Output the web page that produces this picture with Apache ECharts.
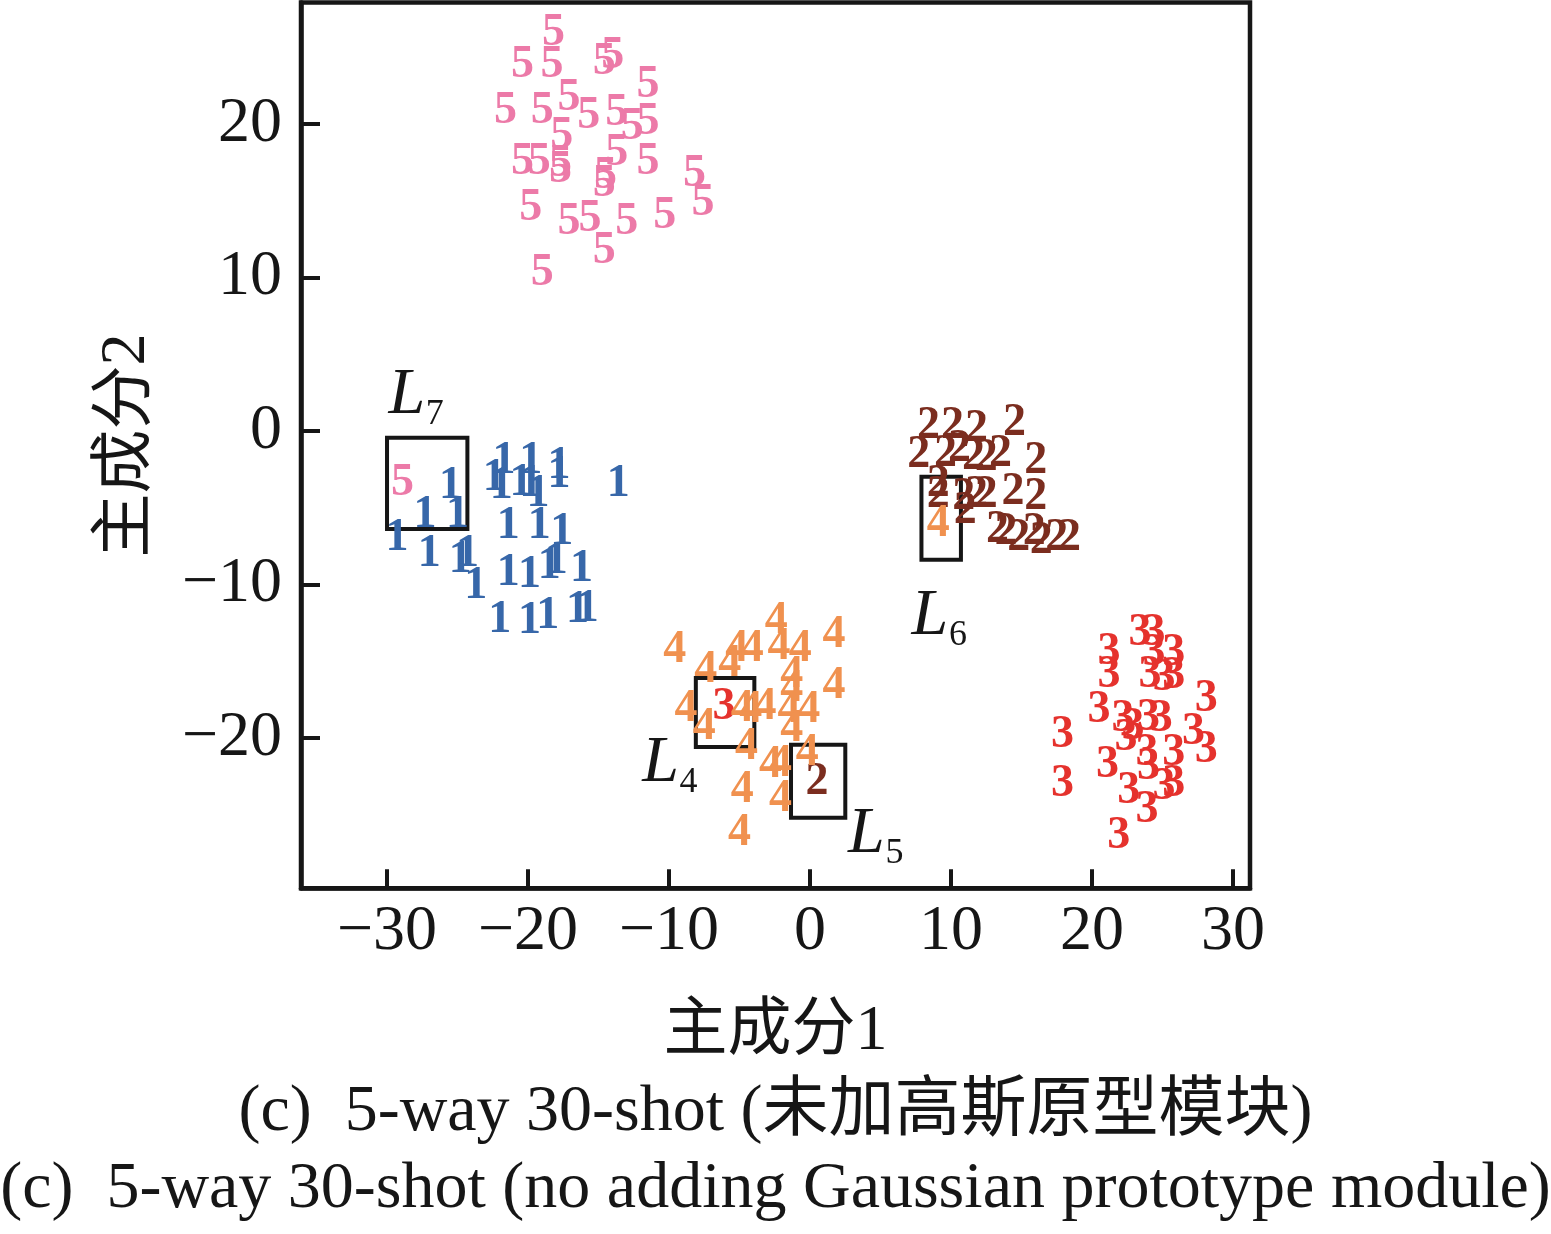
<!DOCTYPE html>
<html>
<head>
<meta charset="utf-8">
<title>5-way 30-shot</title>
<script src="https://cdn.jsdelivr.net/npm/echarts@6/dist/echarts.min.js"></script>
<style>
    html, body { margin: 0; padding: 0; background: #fff; }
    #chart { width: 1551px; height: 1234px; }
</style>
</head>
<body>
<div id="chart"></div>
<script>
// 每一类的二维坐标（主成分1, 主成分2）
var x5 = [-18.2, -20.4, -18.3, -14.6, -14.0, -11.5, -21.6, -19.0, -17.1, -15.7, -13.7, -12.6, -11.5, -17.6, -20.4, -19.2,
    -17.7, -17.7, -13.7, -11.5, -14.5, -14.6, -8.2, -7.6, -19.8, -17.1, -15.6, -13.0, -10.3, -14.6, -19.0, -28.9];
var y5 = [25.9, 23.8, 23.8, 24.0, 24.4, 22.5, 20.8, 20.8, 21.7, 20.5, 20.7, 19.8, 20.1, 19.2, 17.5, 17.5,
    17.4, 17.0, 18.1, 17.5, 16.6, 16.1, 16.7, 14.8, 14.5, 13.6, 13.8, 13.6, 14.0, 11.7, 10.3, -3.4];

var x1 = [-25.5, -21.7, -22.4, -21.9, -19.8, -20.5, -19.8, -19.3, -17.8, -17.8, -13.6, -27.3, -25.0, -29.3, -21.4, -19.2,
    -17.6, -27.0, -24.8, -24.3, -23.7, -21.4, -19.9, -18.5, -18.0, -16.2, -22.0, -19.9, -18.6, -16.5, -15.8];
var y1 = [-3.6, -2.0, -3.1, -3.6, -2.0, -3.4, -3.5, -4.1, -2.3, -2.9, -3.5, -5.5, -5.5, -7.0, -6.2, -6.2,
    -6.6, -8.0, -8.4, -8.0, -10.1, -9.3, -9.4, -8.8, -8.5, -9.0, -12.3, -12.4, -12.1, -11.7, -11.6];

var x2 = [8.4, 10.1, 11.8, 14.5, 7.7, 9.6, 10.6, 11.6, 12.5, 13.5, 16.0, 9.1, 9.1, 10.9, 11.8, 12.5,
    14.4, 16.0, 11.0, 13.3, 13.9, 14.8, 15.9, 16.4, 17.5, 18.4, 0.5];
var y2 = [0.3, 0.3, 0.1, 0.5, -1.6, -1.5, -1.2, -1.7, -1.8, -1.5, -2.0, -3.5, -4.2, -4.3, -4.2, -4.2,
    -4.0, -4.3, -5.2, -6.5, -6.6, -7.0, -6.6, -7.2, -7.0, -7.0, -22.9];

var x4 = [-9.6, -5.2, -4.1, -2.4, -2.2, -0.7, 1.7, -7.4, -5.7, -1.3, -1.3, 1.7, -8.8, -7.5, -4.8, -4.2,
    -3.2, -1.5, -0.1, -1.3, -4.5, -2.8, -2.1, -0.2, -4.8, -2.1, -5.0, 9.1];
var y4 = [-14.3, -14.2, -14.2, -12.4, -14.1, -14.2, -13.3, -15.6, -15.2, -15.9, -16.8, -16.6, -18.1, -19.3, -18.1, -18.2,
    -18.0, -18.2, -18.2, -19.4, -20.6, -21.8, -21.7, -21.0, -23.4, -24.0, -26.2, -6.1];

var x3 = [23.4, 24.4, 21.2, 24.4, 25.8, 21.2, 24.1, 25.1, 25.8, 28.1, 20.5, 22.2, 22.9, 24.0, 24.9, 22.4,
    27.2, 28.1, 17.9, 23.9, 25.8, 21.1, 24.0, 17.9, 22.6, 25.1, 25.8, 23.9, 21.9, -6.1];
var y3 = [-13.2, -13.2, -14.4, -14.5, -14.5, -15.9, -15.9, -16.1, -16.0, -17.5, -18.2, -18.8, -19.3, -18.7, -18.8, -20.0,
    -19.6, -20.8, -19.8, -21.0, -21.0, -21.8, -21.9, -23.0, -23.5, -23.2, -23.0, -24.7, -26.4, -18.0];

// 刻度
var xTicks = [-30, -20, -10, 0, 10, 20, 30];
var yTicks = [-20, -10, 0, 10, 20];

// 标注框 L7, L6, L4, L5
var boxX1 = [-30.0, 7.9, -8.1, -1.35];
var boxX2 = [-24.3, 10.7, -3.95, 2.5];
var boxY1 = [-0.45, -3.0, -16.1, -20.45];
var boxY2 = [-6.4, -8.4, -20.6, -25.2];

var annoSub = ['7', '6', '4', '5'];
var annoX = [-28.6, 8.5, -10.6, 4.0];
var annoY = [2.3, -12.1, -21.7, -26.3];

var caption1 = '(c)  5-way 30-shot (未加高斯原型模块)';
var caption2 = '(c)  5-way 30-shot (no adding Gaussian prototype module)';

var serif = '"Liberation Serif", "Noto Sans CJK SC", serif';
var ink = '#161616';

// 散点本身不画，只画数字标签
var hidden = { color: 'rgba(0,0,0,0)', opacity: 1 };

function digitSeries(digit, xs, ys, color) {
    return {
        type: 'scatter',
        name: digit,
        silent: true,
        symbol: 'circle',
        symbolSize: 1,
        itemStyle: hidden,
        data: xs.map(function (x, i) { return [x, ys[i]]; }),
        label: {
            show: true,
            position: 'inside',
            formatter: digit,
            color: color,
            fontFamily: serif,
            fontWeight: 'bold',
            fontSize: 46
        }
    };
}

function minus(v) {
    return String(v).replace('-', '\u2212');
}

var boxes = boxX1.map(function (x, i) {
    return [{ coord: [x, boxY1[i]] }, { coord: [boxX2[i], boxY2[i]] }];
});
var annoData = annoX.map(function (x, i) { return [x, annoY[i]]; });

var chart = echarts.init(document.getElementById('chart'));
chart.setOption({
    animation: false,
    backgroundColor: '#fff',
    grid: {
        left: 301, right: 301, top: 2.5, bottom: 345.7,
        show: true, borderColor: ink, borderWidth: 4.5
    },
    xAxis: {
        type: 'value',
        min: -36.1, max: 31.2,
        splitLine: { show: false },
        axisLine: { show: true, onZero: false, lineStyle: { color: ink, width: 4.5 } },
        axisTick: { show: true, inside: true, length: 19, customValues: xTicks, lineStyle: { color: ink, width: 4 } },
        axisLabel: { customValues: xTicks, formatter: minus, color: ink, fontFamily: serif, fontSize: 64, margin: 12 },
        name: '主成分1',
        nameLocation: 'middle',
        nameGap: 112,
        nameTextStyle: { color: ink, fontFamily: serif, fontSize: 64 }
    },
    yAxis: {
        type: 'value',
        min: -29.8, max: 27.9,
        splitLine: { show: false },
        axisLine: { show: true, onZero: false, lineStyle: { color: ink, width: 4.5 } },
        axisTick: { show: true, inside: true, length: 19, customValues: yTicks, lineStyle: { color: ink, width: 4 } },
        axisLabel: { customValues: yTicks, formatter: minus, color: ink, fontFamily: serif, fontSize: 64, margin: 19 },
        name: '主成分2',
        nameLocation: 'middle',
        nameGap: 142,
        nameTextStyle: { color: ink, fontFamily: serif, fontSize: 64 }
    },
    series: [
        digitSeries('1', x1, y1, '#3767A9'),
        digitSeries('2', x2, y2, '#7B2D1F'),
        digitSeries('3', x3, y3, '#E5322D'),
        digitSeries('4', x4, y4, '#F0914F'),
        digitSeries('5', x5, y5, '#EC7AA8'),
        {
            type: 'scatter',
            silent: true,
            symbolSize: 1,
            itemStyle: hidden,
            data: annoData,
            label: {
                show: true, position: 'inside', formatter: 'L', color: ink,
                fontFamily: serif, fontStyle: 'italic', fontSize: 66
            },
            markArea: {
                silent: true,
                itemStyle: { color: 'rgba(0,0,0,0)', borderColor: ink, borderWidth: 4, opacity: 1 },
                data: boxes
            },
            z: 5
        },
        {
            type: 'scatter',
            silent: true,
            symbolSize: 1,
            itemStyle: hidden,
            data: annoData,
            label: {
                show: true, position: 'inside', offset: [28, 19], color: ink,
                fontFamily: serif, fontSize: 36,
                formatter: function (p) { return annoSub[p.dataIndex]; }
            },
            z: 5
        }
    ],
    graphic: [
        {
            type: 'text', x: 775.5, y: 1113,
            style: {
                text: caption1, fill: ink, font: '66px ' + serif,
                align: 'center', verticalAlign: 'middle', textAlign: 'center', textVerticalAlign: 'middle'
            }
        },
        {
            type: 'text', x: 775.5, y: 1190,
            style: {
                text: caption2, fill: ink, font: '66px ' + serif,
                align: 'center', verticalAlign: 'middle', textAlign: 'center', textVerticalAlign: 'middle'
            }
        }
    ]
});
</script>
</body>
</html>
